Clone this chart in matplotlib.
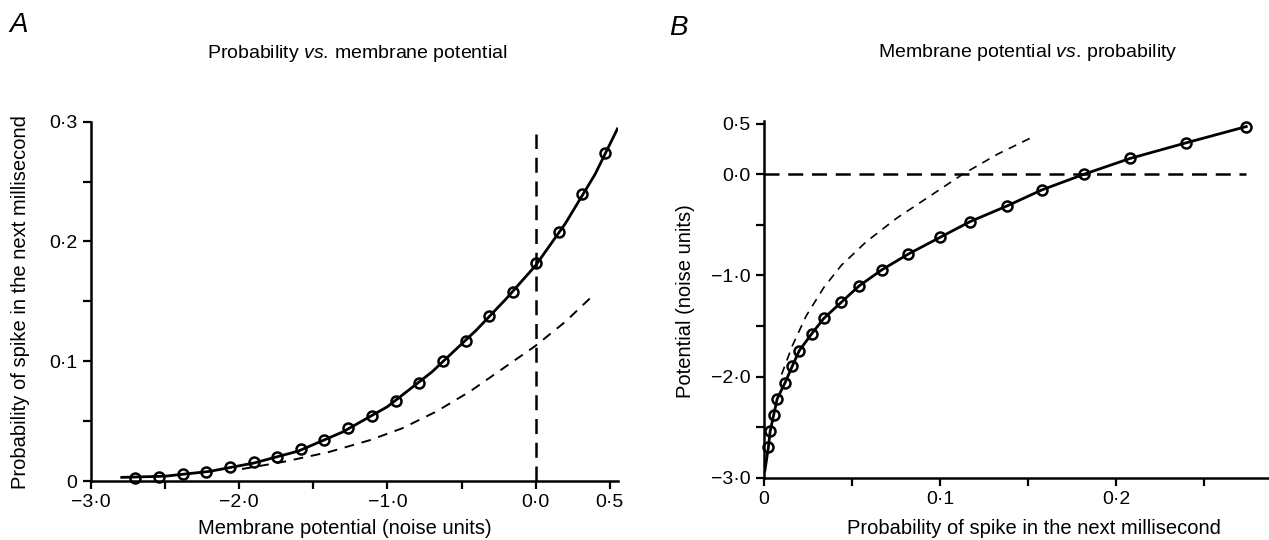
import matplotlib
matplotlib.use("Agg")
import matplotlib.pyplot as plt
from matplotlib.ticker import FixedLocator, FixedFormatter

plt.rcParams["font.family"] = ["Liberation Sans", "DejaVu Sans"]
plt.rcParams["mathtext.fontset"] = "custom"
plt.rcParams["mathtext.rm"] = "Liberation Sans"
plt.rcParams["mathtext.it"] = "Liberation Sans:italic"

# Measured points: membrane potential (noise units) and spike probability per ms
potential = [-2.70, -2.54, -2.38, -2.22, -2.06, -1.90, -1.745, -1.58, -1.425, -1.265,
             -1.105, -0.945, -0.79, -0.625, -0.47, -0.315, -0.155, 0.0, 0.155, 0.31, 0.47]
probability = [0.0025, 0.0035, 0.0055, 0.0075, 0.012, 0.016, 0.020, 0.027, 0.034, 0.044,
               0.054, 0.067, 0.082, 0.100, 0.117, 0.138, 0.158, 0.182, 0.208, 0.240, 0.274]

# Fitted curve (solid line in A)
fit_potential = [-2.80, -2.50, -2.20, -1.90, -1.60, -1.30, -1.00, -0.70, -0.40, -0.20,
                 0.00, 0.20, 0.40, 0.555]
fit_probability = [0.003, 0.004, 0.008, 0.015, 0.025, 0.041, 0.062, 0.091, 0.126, 0.152,
                   0.180, 0.215, 0.256, 0.295]

# Comparison curve (thin dashed line)
alt_potential = [-1.98, -1.70, -1.40, -1.12, -0.90, -0.67, -0.44, -0.22, 0.00, 0.20, 0.37]
alt_probability = [0.010, 0.016, 0.024, 0.034, 0.044, 0.058, 0.075, 0.094, 0.113, 0.133, 0.153]

# Lower end of the joined line in B
b_line_start_prob = 0.0005
b_line_start_pot = -2.93

# Reference level (0 noise units) and extent of the marker lines
threshold = 0.0
a_vline_top = 0.29
b_hline_right = 0.274

# Tick positions and labels
a_xticks = [-3.0, -2.5, -2.0, -1.5, -1.0, -0.5, 0.0, 0.5]
a_xticklabels = ["\u22123\u00b70", "", "\u22122\u00b70", "", "\u22121\u00b70", "", "0\u00b70", "0\u00b75"]
a_yticks = [0.0, 0.05, 0.1, 0.15, 0.2, 0.25, 0.3]
a_yticklabels = ["0", "", "0\u00b71", "", "0\u00b72", "", "0\u00b73"]
b_xticks = [0.0, 0.05, 0.1, 0.15, 0.2, 0.25]
b_xticklabels = ["0", "", "0\u00b71", "", "0\u00b72", ""]
b_yticks = [0.5, 0.0, -0.5, -1.0, -1.5, -2.0, -2.5, -3.0]
b_yticklabels = ["0\u00b75", "0\u00b70", "", "\u22121\u00b70", "", "\u22122\u00b70", "", "\u22123\u00b70"]

W, H = 1269, 540
fig = plt.figure(figsize=(W / 100, H / 100), dpi=100)


def px_axes(left, right, top, bottom):
    return fig.add_axes([left / W, 1 - bottom / H, (right - left) / W, (bottom - top) / H])


def style(ax, xt, xtl, yt, ytl):
    for s in ("top", "right"):
        ax.spines[s].set_visible(False)
    for s in ("left", "bottom"):
        ax.spines[s].set_linewidth(1.8)
    ax.xaxis.set_major_locator(FixedLocator(xt))
    ax.xaxis.set_major_formatter(FixedFormatter(xtl))
    ax.yaxis.set_major_locator(FixedLocator(yt))
    ax.yaxis.set_major_formatter(FixedFormatter(ytl))
    ax.tick_params(direction="out", length=6, width=1.6, labelsize=14, pad=3.5, colors="black")
    ax.patch.set_alpha(0)


marker_kw = dict(marker="o", ms=7.2, mfc="none", mec="black", mew=1.8, ls="none", clip_on=False, zorder=4)
label_size = 14.5
title_size = 14

# ---- Panel A: probability against membrane potential ----
axA = px_axes(90.7, 618, 121.7, 481)
axA.set_xlim(-3.0, 0.555)
axA.set_ylim(0.0, 0.3)
style(axA, a_xticks, a_xticklabels, a_yticks, a_yticklabels)

axA.plot(fit_potential, fit_probability, color="black", lw=2.0, solid_capstyle="butt", zorder=3)
axA.plot(alt_potential, alt_probability, color="black", lw=1.4, dashes=(5.0, 4.0), zorder=2)
axA.plot([threshold, threshold], [0, a_vline_top], color="black", lw=1.8, dashes=(6.0, 3.5), zorder=2)
axA.plot(potential, probability, **marker_kw)

axA.set_xlabel("Membrane potential (noise units)", fontsize=label_size)
axA.set_ylabel("Probability of spike in the next millisecond", fontsize=label_size)
axA.xaxis.label.set_va("center")
axA.xaxis.set_label_coords(0.481, -0.133)
axA.yaxis.label.set_rotation_mode("default")
axA.yaxis.label.set_va("center")
axA.yaxis.label.set_ha("center")
axA.yaxis.set_label_coords(-0.133, 0.497)
axA.text(0.505, 1.19, r"$\mathrm{Probability}\ \mathit{vs.}\!\ \mathrm{membrane\ potential}$",
         transform=axA.transAxes, ha="center", va="center", fontsize=title_size)

# ---- Panel B: membrane potential against probability ----
axB = px_axes(764, 1274.4, 120.5, 477.7)
axB.set_xlim(0.0, 0.29)
axB.set_ylim(-3.0, 0.53)
style(axB, b_xticks, b_xticklabels, b_yticks, b_yticklabels)

axB.plot([b_line_start_prob] + probability, [b_line_start_pot] + potential,
         color="black", lw=2.0, zorder=3)
axB.plot(alt_probability, alt_potential, color="black", lw=1.2, dashes=(5.0, 4.0), zorder=2)
axB.plot([0, b_hline_right], [threshold, threshold], color="black", lw=1.8, dashes=(6.0, 3.5), zorder=2)
axB.plot(probability, potential, **marker_kw)

axB.set_xlabel("Probability of spike in the next millisecond", fontsize=label_size)
axB.set_ylabel("Potential (noise units)", fontsize=label_size)
axB.xaxis.label.set_va("center")
axB.xaxis.set_label_coords(0.529, -0.141)
axB.yaxis.label.set_rotation_mode("default")
axB.yaxis.label.set_va("center")
axB.yaxis.label.set_ha("center")
axB.yaxis.set_label_coords(-0.153, 0.495)
axB.text(0.517, 1.19, r"$\mathrm{Membrane\ potential}\ \mathit{vs.}\!\ \mathrm{probability}$",
         transform=axB.transAxes, ha="center", va="center", fontsize=title_size)

# Panel letters
fig.text(19 / W, 1 - 25 / H, "A", fontsize=20, style="italic", ha="center", va="center")
fig.text(678 / W, 1 - 28 / H, "B", fontsize=20, style="italic", ha="center", va="center")

fig.savefig("out.png", dpi=100)
